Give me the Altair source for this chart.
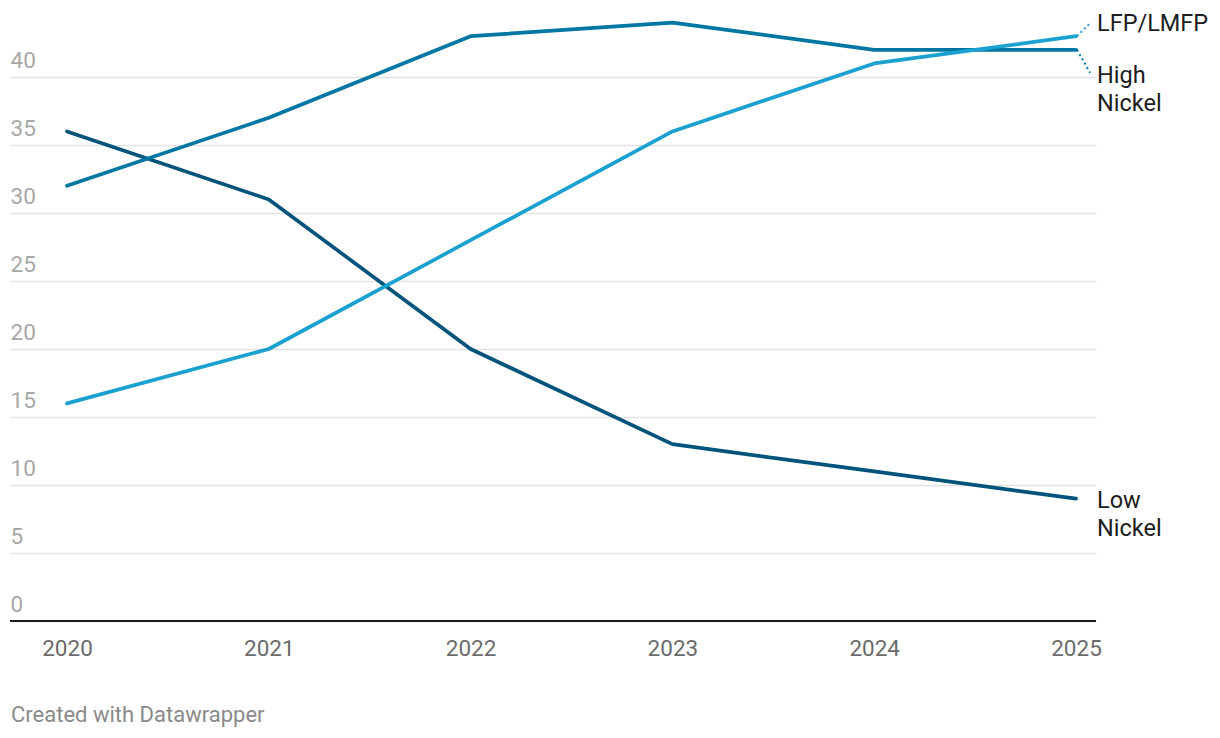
import altair as alt
import pandas as pd

years = [2020, 2021, 2022, 2023, 2024, 2025]
lfp = [16, 20, 28, 36, 41, 43]
high_nickel = [32, 37, 43, 44, 42, 42]
low_nickel = [36, 31, 20, 13, 11, 9]
series_names = ["Low Nickel", "High Nickel", "LFP/LMFP"]
series_colors = ["#00547c", "#0077a2", "#1ba1cf"]
y_ticks = [0, 5, 10, 15, 20, 25, 30, 35, 40]

FONT = "Roboto"

rows = []
for name, vals in zip(series_names, [low_nickel, high_nickel, lfp]):
    for yr, v in zip(years, vals):
        rows.append({"year": yr, "value": v, "series": name})
df = pd.DataFrame(rows)

xscale = alt.Scale(domain=[2019.7175, 2025.099], nice=False, zero=False)
yscale = alt.Scale(domain=[0, 45], nice=False, zero=True)

base = alt.Chart(df)

xaxis = alt.Axis(values=years, format="d", domain=False, ticks=False, tickSize=0, grid=False,
                 labelFont=FONT, labelFontSize=22.5, labelColor="#6b6b6b",
                 labelBaseline="alphabetic", labelPadding=34, title=None)
yaxis = alt.Axis(values=y_ticks, domain=False, ticks=False, tickSize=0, grid=True,
                 gridColor="#e2e2e2", gridWidth=1.3,
                 labelFont=FONT, labelFontSize=22.5, labelColor="#a8a8a8",
                 labelAlign="left", labelBaseline="alphabetic", labelPadding=0,
                 labelOffset=-10, title=None)

lines = base.mark_line(strokeWidth=3.7, strokeCap="round", strokeJoin="round").encode(
    x=alt.X("year:Q", scale=xscale, axis=xaxis),
    y=alt.Y("value:Q", scale=yscale, axis=yaxis),
    color=alt.Color("series:N", scale=alt.Scale(domain=series_names, range=series_colors), legend=None),
    detail="series:N",
)

baseline_df = pd.DataFrame({"v": [0]})
baseline = alt.Chart(baseline_df).mark_rule(color="#1d1d1d", strokeWidth=2).encode(
    y=alt.Y("v:Q", scale=yscale),
    x=alt.value(0),
    x2=alt.value(1086),
)

last = df[df["year"] == years[-1]]

layers = [lines, baseline]

# connector + label settings per series: (x2Offset, y2Offset, text, dy)
label_cfg = {
    "LFP/LMFP": (14, -13, "LFP/LMFP", -5),
    "High Nickel": (14, 23, "High\nNickel", 33),
    "Low Nickel": (None, None, "Low\nNickel", 9),
}
for name, color in zip(series_names, series_colors):
    d = last[last["series"] == name].copy()
    x2o, y2o, txt, dy = label_cfg[name]
    d["label"] = txt
    c = alt.Chart(d)
    if x2o is not None:
        layers.append(
            c.mark_rule(color=color, strokeWidth=2, strokeDash=[2, 3],
                        x2Offset=x2o, y2Offset=y2o, xOffset=1).encode(
                x=alt.X("year:Q", scale=xscale), y=alt.Y("value:Q", scale=yscale),
                x2="year:Q", y2="value:Q")
        )
    layers.append(
        c.mark_text(align="left", baseline="alphabetic", dx=21, dy=dy, font=FONT,
                    fontSize=23.5, color="#1d1d1d", lineBreak="\n", lineHeight=28).encode(
            x=alt.X("year:Q", scale=xscale), y=alt.Y("value:Q", scale=yscale),
            text="label:N")
    )

footer = alt.Chart(pd.DataFrame({"t": ["Created with Datawrapper"]})).mark_text(
    align="left", baseline="alphabetic", font=FONT, fontSize=22, color="#8a8a8a").encode(
    x=alt.value(1), y=alt.value(713), text="t:N")
layers.append(footer)

chart = alt.layer(*layers).properties(
    width=1086, height=612,
    autosize=alt.AutoSizeParams(type="none"),
    padding={"left": 2, "top": 1, "right": 116, "bottom": 109},
    background="white",
).configure_view(stroke=None, strokeWidth=0)

chart.save("out.html", embed_options={"renderer": "svg", "actions": False})
